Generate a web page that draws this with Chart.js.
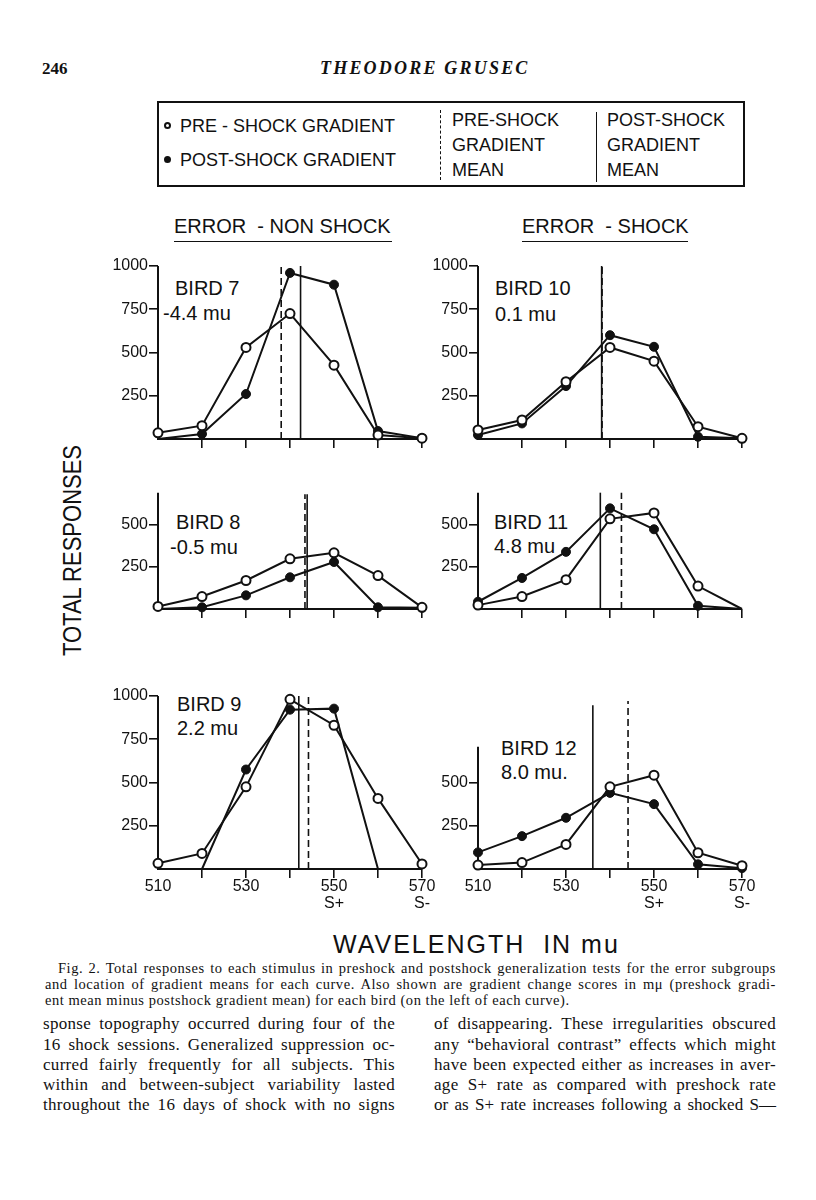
<!DOCTYPE html>
<html>
<head>
<meta charset="utf-8">
<title>Grusec Fig. 2</title>
<script src="https://cdn.jsdelivr.net/npm/chart.js@4.4.0/dist/chart.umd.min.js"></script>
<style>
    body { margin: 0; background: #ffffff; }
    #page { position: relative; width: 816px; height: 1200px; overflow: hidden; background: #ffffff; color: #111111; }
    .abs { position: absolute; white-space: nowrap; line-height: 1; }
    .letter { font-family: "Liberation Sans", Arial, sans-serif; }
    .serif { font-family: "Liberation Serif", "Times New Roman", serif; }
    .just { text-align: justify; text-align-last: justify; white-space: normal; }
    .cap { font-size: 14.5px; letter-spacing: 0.55px; }
    .body { font-size: 17px; letter-spacing: 0.3px; }
    canvas { position: absolute; }
    .dot { position: absolute; width: 7px; height: 7px; border-radius: 50%; box-sizing: border-box; border: 2px solid #111111; }
</style>
</head>
<body>
<div id="page">

    <!-- running head -->
    <div class="abs serif" style="left:42px; top:60px; font-size:17px; font-weight:bold;">246</div>
    <div class="abs serif" style="left:320px; top:59px; font-size:18px; font-style:italic; font-weight:bold; letter-spacing:2.2px;">THEODORE GRUSEC</div>

    <!-- legend box -->
    <div class="abs" style="left:157px; top:101px; width:588px; height:86px; border:2px solid #111; box-sizing:border-box;"></div>
    <div class="dot" style="left:164px; top:122px; background:#fff;"></div>
    <div class="dot" style="left:164px; top:156px; background:#111;"></div>
    <div class="abs letter" style="left:180px; top:117px; font-size:18px;">PRE - SHOCK GRADIENT</div>
    <div class="abs letter" style="left:180px; top:151px; font-size:18px;">POST-SHOCK GRADIENT</div>
    <div class="abs" style="left:440px; top:110px; height:70px; border-left:1.5px dashed #111;"></div>
    <div class="abs letter" style="left:452px; top:111px; font-size:18px;">PRE-SHOCK</div>
    <div class="abs letter" style="left:452px; top:136px; font-size:18px;">GRADIENT</div>
    <div class="abs letter" style="left:452px; top:161px; font-size:18px;">MEAN</div>
    <div class="abs" style="left:596px; top:112px; height:70px; border-left:1.5px solid #111;"></div>
    <div class="abs letter" style="left:607px; top:111px; font-size:18px;">POST-SHOCK</div>
    <div class="abs letter" style="left:607px; top:136px; font-size:18px;">GRADIENT</div>
    <div class="abs letter" style="left:607px; top:161px; font-size:18px;">MEAN</div>

    <!-- column headings -->
    <div class="abs letter" style="left:174px; top:216px; font-size:20px; width:218px; padding-bottom:5px; border-bottom:1.5px solid #111;">ERROR&nbsp; - NON SHOCK</div>
    <div class="abs letter" style="left:522px; top:216px; font-size:20px; width:166px; padding-bottom:5px; border-bottom:1.5px solid #111;">ERROR&nbsp; - SHOCK</div>

    <!-- bird labels -->
    <div class="abs letter" style="left:175px; top:278px; font-size:20px;">BIRD 7</div>
    <div class="abs letter" style="left:163px; top:303px; font-size:20px;">-4.4 mu</div>
    <div class="abs letter" style="left:495px; top:278px; font-size:20px;">BIRD 10</div>
    <div class="abs letter" style="left:495px; top:304px; font-size:20px;">0.1 mu</div>
    <div class="abs letter" style="left:176px; top:512px; font-size:20px;">BIRD 8</div>
    <div class="abs letter" style="left:170px; top:537px; font-size:20px;">-0.5 mu</div>
    <div class="abs letter" style="left:494px; top:512px; font-size:20px;">BIRD 11</div>
    <div class="abs letter" style="left:494px; top:536px; font-size:20px;">4.8 mu</div>
    <div class="abs letter" style="left:177px; top:694px; font-size:20px;">BIRD 9</div>
    <div class="abs letter" style="left:177px; top:718px; font-size:20px;">2.2 mu</div>
    <div class="abs letter" style="left:501px; top:738px; font-size:20px;">BIRD 12</div>
    <div class="abs letter" style="left:501px; top:762px; font-size:20px;">8.0 mu.</div>

    <!-- axis titles -->
    <div class="abs letter" style="left:-48px; top:538px; width:240px; text-align:center; font-size:25px; transform:rotate(-90deg) scaleX(0.88);">TOTAL RESPONSES</div>
    <div class="abs letter" style="left:333px; top:932px; font-size:25px; letter-spacing:2px;">WAVELENGTH &nbsp;IN mu</div>

    <!-- caption -->
    <div class="abs serif just cap" style="left:58px; top:961px; width:718px;">Fig. 2. Total responses to each stimulus in preshock and postshock generalization tests for the error subgroups</div>
    <div class="abs serif just cap" style="left:45px; top:977px; width:731px;">and location of gradient means for each curve. Also shown are gradient change scores in m&#956; (preshock gradi-</div>
    <div class="abs serif cap" style="left:45px; top:993px;">ent mean minus postshock gradient mean) for each bird (on the left of each curve).</div>

    <!-- body text -->
    <div class="abs serif just body" style="left:43px; top:1015px; width:352px;">sponse topography occurred during four of the</div>
    <div class="abs serif just body" style="left:43px; top:1036px; width:352px;">16 shock sessions. Generalized suppression oc-</div>
    <div class="abs serif just body" style="left:43px; top:1056px; width:352px;">curred fairly frequently for all subjects. This</div>
    <div class="abs serif just body" style="left:43px; top:1076px; width:352px;">within and between-subject variability lasted</div>
    <div class="abs serif just body" style="left:43px; top:1096px; width:352px;">throughout the 16 days of shock with no signs</div>
    <div class="abs serif just body" style="left:434px; top:1015px; width:342px;">of disappearing. These irregularities obscured</div>
    <div class="abs serif just body" style="left:434px; top:1036px; width:342px;">any &ldquo;behavioral contrast&rdquo; effects which might</div>
    <div class="abs serif just body" style="left:434px; top:1056px; width:342px;">have been expected either as increases in aver-</div>
    <div class="abs serif just body" style="left:434px; top:1076px; width:342px;">age S+ rate as compared with preshock rate</div>
    <div class="abs serif just body" style="left:434px; top:1096px; width:342px; letter-spacing:0;">or as S+ rate increases following a shocked S&#8288;&mdash;</div>
</div>

<script>
"use strict";

// Stimulus wavelengths (mu) on every x axis
const wavelengths = [510, 520, 530, 540, 550, 560, 570];

// Total responses, pre-shock (open circles) and post-shock (filled circles)
const bird7Pre   = [36, 77, 529, 725, 427, 23, 5];
const bird7Post  = [0, 29, 260, 960, 892, 46, 5];
const bird10Pre  = [52, 110, 331, 529, 450, 71, 4];
const bird10Post = [23, 90, 306, 600, 533, 13, 4];
const bird8Pre   = [15, 74, 169, 298, 333, 198, 10];
const bird8Post  = [0, 10, 81, 188, 279, 10, 8];
const bird11Pre  = [23, 74, 174, 535, 570, 136, 0];
const bird11Post = [43, 184, 339, 597, 473, 19, 0];
const bird9Pre   = [33, 90, 475, 981, 831, 408, 29];
const bird9Post  = [null, 0, 575, 921, 927, 0, null];
const bird12Pre  = [23, 37, 142, 475, 542, 94, 19];
const bird12Post = [96, 190, 296, 440, 375, 27, 5];

// Gradient means (mu), in panel order 7, 10, 8, 11, 9, 12
const preMeans  = [538.0, 538.2, 543.4, 542.6, 544.2, 544.1];
const postMeans = [542.4, 538.1, 543.9, 537.8, 542.0, 536.1];
// how far up each mean line is drawn (responses)
const preMeanTops  = [1000, 1000, 680, 690, 1000, 971];
const postMeanTops = [1000, 1000, 680, 690, 1000, 946];
// top of each drawn y axis (responses)
const axisTops = [1000, 1000, 690, 690, 1000, 706];

// Tick labels
const yTickValues = [250, 500, 750, 1000];
const xLabelValues = [510, 530, 550, 570];
const xLabelMarks = ["", "", "S+", "S-"];

const preSeries  = [bird7Pre, bird10Pre, bird8Pre, bird11Pre, bird9Pre, bird12Pre];
const postSeries = [bird7Post, bird10Post, bird8Post, bird11Post, bird9Post, bird12Post];

// Where each panel sits on the page (pixels)
const panelLayout = [
    {left: 158, bottom: 439, height: 173, yMax: 1000, labels: false},
    {left: 478, bottom: 439, height: 173, yMax: 1000, labels: false},
    {left: 158, bottom: 609, height: 118, yMax: 700, labels: false},
    {left: 478, bottom: 609, height: 118, yMax: 700, labels: false},
    {left: 158, bottom: 869, height: 173, yMax: 1000, labels: true},
    {left: 478, bottom: 869, height: 173, yMax: 1000, labels: true}
];

const ink = "#111111";
const letterFont = "'Liberation Sans', Arial, sans-serif";

// Draws the axis lines and the two gradient-mean lines underneath the curves
const meanLines = {
    id: "meanLines",
    beforeDatasetsDraw(chart, args, opts) {
        const {ctx, scales: {x, y}} = chart;
        const y0 = y.getPixelForValue(0);
        ctx.save();
        ctx.strokeStyle = ink;

        ctx.lineWidth = 2;
        ctx.beginPath();
        ctx.moveTo(x.getPixelForValue(510), y.getPixelForValue(opts.axisTop));
        ctx.lineTo(x.getPixelForValue(510), y0);
        ctx.lineTo(x.getPixelForValue(570), y0);
        ctx.stroke();

        ctx.lineWidth = 1.6;
        let xp = x.getPixelForValue(opts.postMean);
        ctx.beginPath();
        ctx.moveTo(xp, y0);
        ctx.lineTo(xp, y.getPixelForValue(opts.postTop));
        ctx.stroke();

        ctx.setLineDash([7, 4]);
        xp = x.getPixelForValue(opts.preMean);
        ctx.beginPath();
        ctx.moveTo(xp, y0);
        ctx.lineTo(xp, y.getPixelForValue(opts.preTop));
        ctx.stroke();
        ctx.restore();
    }
};

function toPoints(values) {
    return values.map((v, k) => ({x: wavelengths[k], y: v}));
}

// zero counts have no marker drawn in the original
function markerRadius(ctx) {
    return ctx.raw && ctx.raw.y === 0 ? 0 : 4.5;
}

function xTickText(value, showLabels) {
    if (!showLabels) return "";
    const k = xLabelValues.indexOf(value);
    if (k < 0) return "";
    return [String(value), xLabelMarks[k]];
}

function makePanel(i) {
    const p = panelLayout[i];
    const W = 60, T = 12, R = 26;
    const H = p.labels ? 52 : 14;
    const plotWidth = 264;

    const canvas = document.createElement("canvas");
    canvas.width = W + plotWidth + R;
    canvas.height = T + p.height + H;
    canvas.style.left = (p.left - W) + "px";
    canvas.style.top = (p.bottom - p.height - T) + "px";
    document.getElementById("page").appendChild(canvas);

    const config = {
        type: "line",
        data: {
            datasets: [{
                label: "Pre-shock gradient",
                data: toPoints(preSeries[i]),
                borderColor: ink,
                borderWidth: 2,
                pointStyle: "circle",
                pointRadius: markerRadius,
                pointBorderWidth: 2,
                pointBorderColor: ink,
                pointBackgroundColor: "#ffffff",
                tension: 0,
                clip: false
            },
            {
                label: "Post-shock gradient",
                data: toPoints(postSeries[i]),
                borderColor: ink,
                borderWidth: 2,
                pointStyle: "circle",
                pointRadius: markerRadius,
                pointBorderWidth: 1,
                pointBorderColor: ink,
                pointBackgroundColor: ink,
                tension: 0,
                clip: false
            }]
        },
        options: {
            responsive: false,
            animation: false,
            events: [],
            layout: {padding: {top: T, right: R, left: 0, bottom: 0}},
            plugins: {
                legend: {display: false},
                tooltip: {enabled: false},
                meanLines: {
                    axisTop: axisTops[i],
                    preMean: preMeans[i],
                    postMean: postMeans[i],
                    preTop: preMeanTops[i],
                    postTop: postMeanTops[i]
                }
            },
            scales: {
                x: {
                    type: "linear",
                    min: 510,
                    max: 570,
                    border: {display: false},
                    grid: {
                        drawOnChartArea: false,
                        drawTicks: true,
                        tickLength: 9,
                        lineWidth: 1.6,
                        color: (ctx) => (ctx.tick && ctx.tick.value === 510) ? "rgba(0,0,0,0)" : ink
                    },
                    ticks: {
                        stepSize: 10,
                        autoSkip: false,
                        maxRotation: 0,
                        padding: 0,
                        color: ink,
                        font: {family: letterFont, size: 16, lineHeight: 1.05},
                        callback: (v) => xTickText(v, p.labels)
                    },
                    afterFit: (scale) => { scale.height = H; }
                },
                y: {
                    min: 0,
                    max: p.yMax,
                    border: {display: false},
                    grid: {drawOnChartArea: false, drawTicks: true, tickLength: 9, lineWidth: 1.6, color: ink},
                    ticks: {
                        padding: 1,
                        color: ink,
                        font: {family: letterFont, size: 16},
                        callback: (v) => String(v)
                    },
                    afterBuildTicks: (scale) => {
                        scale.ticks = yTickValues.filter((v) => v <= axisTops[i]).map((v) => ({value: v}));
                    },
                    afterFit: (scale) => { scale.width = W; }
                }
            }
        },
        plugins: [meanLines]
    };

    return new Chart(canvas.getContext("2d"), config);
}

const charts = [];
for (let i = 0; i < panelLayout.length; i++) {
    charts.push(makePanel(i));
}
</script>
</body>
</html>
